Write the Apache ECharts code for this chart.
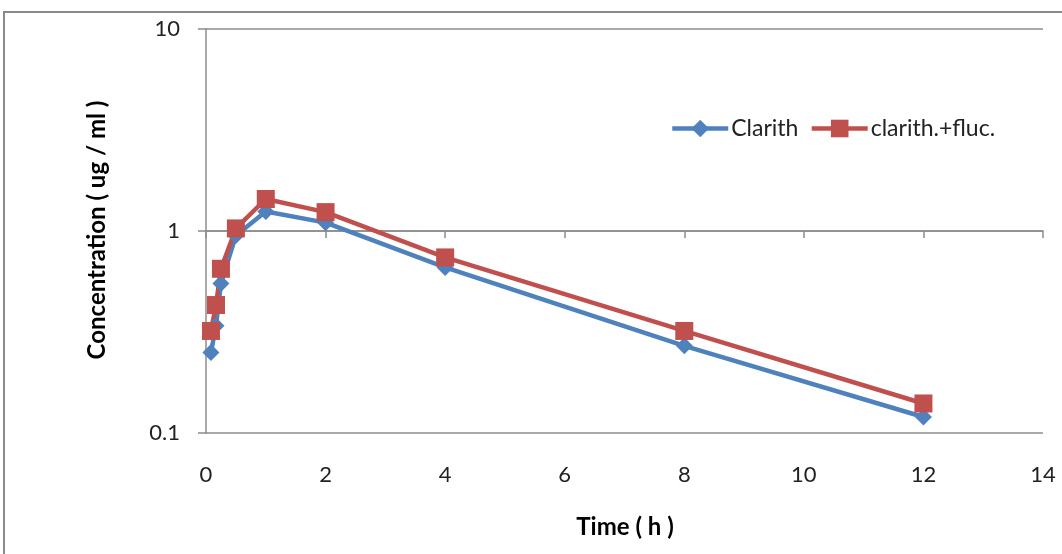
<!DOCTYPE html>
<html>
<head>
<meta charset="utf-8">
<script src="https://cdn.jsdelivr.net/npm/echarts@6/dist/echarts.min.js"></script>
<style>
html,body{margin:0;padding:0;background:#fff;}
#chart{width:1062px;height:554px;}
</style>
</head>
<body>
<div id="chart"></div>
<script>
const times = [0.083, 0.167, 0.25, 0.5, 1, 2, 4, 8, 12];
const clarith = [0.25, 0.34, 0.55, 0.95, 1.25, 1.1, 0.66, 0.27, 0.12];
const clarithFluc = [0.32, 0.43, 0.65, 1.03, 1.44, 1.24, 0.74, 0.32, 0.14];
const seriesNames = ['Clarith', 'clarith.+fluc.'];
const xTitle = 'Time ( h )';
const yTitle = 'Concentration ( ug / ml )';

const FONT = 'Lato, "Open Sans", sans-serif';
const GRID_L = 206, GRID_T = 29, GRID_W = 837, GRID_H = 404;
const gridColor = '#8c8c8c';

const chart = echarts.init(document.getElementById('chart'));
chart.setOption({
  animation: false,
  backgroundColor: '#fff',
  textStyle: {fontFamily: FONT},
  grid: [
    {left: GRID_L, top: GRID_T, width: GRID_W, height: GRID_H},
    {left: GRID_L, top: GRID_T, width: GRID_W, height: GRID_H / 2}
  ],
  legend: {
    data: seriesNames,
    left: 665, top: 112,
    itemWidth: 56, itemHeight: 22, itemGap: 11,
    lineStyle: {width: 4.5},
    textStyle: {fontFamily: FONT, fontSize: 23, color: '#222', padding: [0, 0, 0, -2]}
  },
  xAxis: [
    {
      type: 'value', gridIndex: 0, min: 0, max: 14, interval: 2,
      axisLine: {show: false}, axisTick: {show: false}, splitLine: {show: false},
      axisLabel: {fontFamily: FONT, fontSize: 22, color: '#222', margin: 31}
    },
    {
      type: 'value', gridIndex: 1, min: 0, max: 14, interval: 2, position: 'bottom',
      axisLine: {show: true, lineStyle: {color: gridColor, width: 1.5}},
      axisTick: {show: true, length: 7, lineStyle: {color: gridColor, width: 1.5}},
      axisLabel: {show: false}, splitLine: {show: false}
    }
  ],
  yAxis: [
    {
      type: 'log', logBase: 10, gridIndex: 0, min: 0.1, max: 10,
      axisLine: {show: true, lineStyle: {color: gridColor, width: 1.5}},
      axisTick: {show: true, length: 8, lineStyle: {color: gridColor, width: 1.5}},
      splitLine: {show: true, lineStyle: {color: gridColor, width: 1.5}},
      minorTick: {show: false},
      axisLabel: {fontFamily: FONT, fontSize: 22, color: '#222', margin: 26}
    },
    {
      type: 'value', gridIndex: 1, min: 0, max: 1, show: false
    }
  ],
  graphic: [
    {type: 'rect', shape: {x: 4, y: 12, width: 1100, height: 600}, style: {fill: 'none', stroke: '#8a8a8a', lineWidth: 2}, silent: true, z: -1},
    {type: 'text', x: 625, y: 527, style: {text: xTitle, fontFamily: FONT, fontSize: 24, fontWeight: 'bold', fill: '#000', align: 'center', verticalAlign: 'middle'}},
    {type: 'text', x: 97, y: 230, rotation: Math.PI / 2, style: {text: yTitle, fontFamily: FONT, fontSize: 24, fontWeight: 'bold', fill: '#000', align: 'center', verticalAlign: 'middle'}}
  ],
  series: [
    {
      name: seriesNames[0], type: 'line', xAxisIndex: 0, yAxisIndex: 0,
      data: times.map((t, i) => [t, clarith[i]]),
      symbol: 'diamond', symbolSize: 17,
      lineStyle: {color: '#4F81BD', width: 4.5},
      itemStyle: {color: '#4F81BD'}
    },
    {
      name: seriesNames[1], type: 'line', xAxisIndex: 0, yAxisIndex: 0,
      data: times.map((t, i) => [t, clarithFluc[i]]),
      symbol: 'rect', symbolSize: 18,
      lineStyle: {color: '#C0504D', width: 4.5},
      itemStyle: {color: '#C0504D'}
    }
  ]
});
</script>
</body>
</html>
